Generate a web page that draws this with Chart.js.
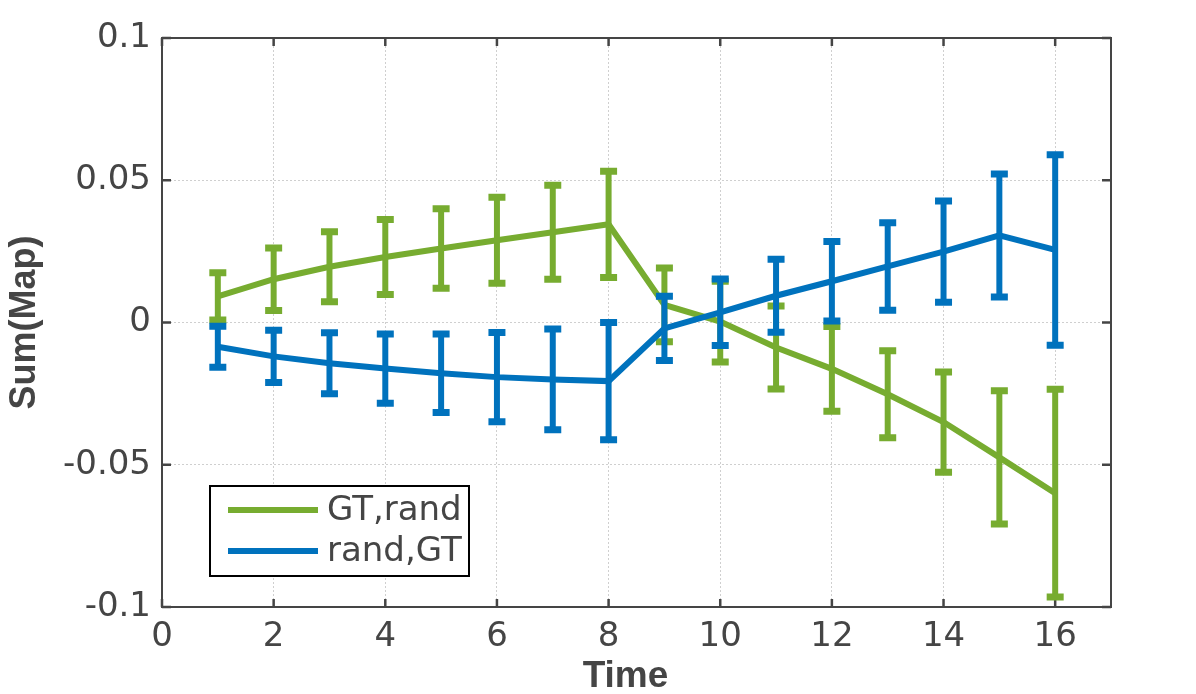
<!DOCTYPE html>
<html>
<head>
<meta charset="utf-8">
<script src="https://cdn.jsdelivr.net/npm/chart.js@4"></script>
<style>
  body { margin: 0; background: #fff; }
  #wrap { width: 1196px; height: 694px; }
</style>
</head>
<body>
<div id="wrap"><canvas id="chart" width="1196" height="694"></canvas></div>
<script>
// datos
const timeSteps = [1, 2, 3, 4, 5, 6, 7, 8, 9, 10, 11, 12, 13, 14, 15, 16];
const gtRandMean = [0.0092, 0.0152, 0.0196, 0.0230, 0.0260, 0.0289, 0.0317, 0.0345, 0.0062, 0.0003, -0.0088, -0.0163, -0.0252, -0.0350, -0.0474, -0.0600];
const gtRandErr = [0.0083, 0.0110, 0.0123, 0.0132, 0.0140, 0.0151, 0.0165, 0.0187, 0.0130, 0.0142, 0.0146, 0.0149, 0.0153, 0.0176, 0.0234, 0.0365];
const randGtMean = [-0.0085, -0.0119, -0.0143, -0.0162, -0.0178, -0.0192, -0.0200, -0.0206, -0.0021, 0.0036, 0.0094, 0.0145, 0.0197, 0.0249, 0.0306, 0.0255];
const randGtErr = [0.0072, 0.0092, 0.0107, 0.0122, 0.0138, 0.0157, 0.0177, 0.0206, 0.0113, 0.0117, 0.0128, 0.0140, 0.0154, 0.0178, 0.0216, 0.0335];

const xTicks = [0, 2, 4, 6, 8, 10, 12, 14, 16];
const yTicks = [-0.1, -0.05, 0, 0.05, 0.1];
const yTickLabels = ['-0.1', '-0.05', '0', '0.05', '0.1'];

const green = '#77AC30';
const blue = '#0072BD';
const axisColor = '#454545';
const textColor = '#454545';
const gridColor = '#cfcfcf';
const tickFont = '"DejaVu Sans", sans-serif';
const titleFont = '"Liberation Sans", Arial, Helvetica, sans-serif';

function toPoints(means) {
  return timeSteps.map((t, i) => ({ x: t, y: means[i] }));
}

// barras de error, dibujadas justo despues de cada serie
const errorBars = {
  id: 'errorBars',
  afterDatasetDraw(chart, args) {
    const ds = chart.data.datasets[args.index];
    if (!ds.errors) return;
    const ctx = chart.ctx;
    const xs = chart.scales.x, ys = chart.scales.y;
    ctx.save();
    ctx.strokeStyle = ds.borderColor;
    ctx.lineCap = 'butt';
    ds.data.forEach((p, i) => {
      const px = xs.getPixelForValue(p.x);
      const top = ys.getPixelForValue(p.y + ds.errors[i]);
      const bot = ys.getPixelForValue(p.y - ds.errors[i]);
      ctx.lineWidth = 6;
      ctx.beginPath();
      ctx.moveTo(px, top);
      ctx.lineTo(px, bot);
      ctx.stroke();
      ctx.lineWidth = 7;
      ctx.beginPath();
      ctx.moveTo(px - 8.5, top);
      ctx.lineTo(px + 8.5, top);
      ctx.moveTo(px - 8.5, bot);
      ctx.lineTo(px + 8.5, bot);
      ctx.stroke();
    });
    ctx.restore();
  }
};

// caja de ejes con marcas hacia dentro
const axesBox = {
  id: 'axesBox',
  beforeDatasetsDraw(chart) {
    const ctx = chart.ctx;
    const a = chart.chartArea;
    const xs = chart.scales.x, ys = chart.scales.y;
    ctx.save();
    ctx.strokeStyle = axisColor;
    ctx.lineWidth = 2;
    ctx.strokeRect(a.left, a.top, a.right - a.left, a.bottom - a.top);
    ctx.lineWidth = 2.5;
    ctx.beginPath();
    xTicks.forEach(v => {
      const px = xs.getPixelForValue(v);
      ctx.moveTo(px, a.bottom);
      ctx.lineTo(px, a.bottom - 8);
      ctx.moveTo(px, a.top);
      ctx.lineTo(px, a.top + 8);
    });
    yTicks.forEach(v => {
      const py = ys.getPixelForValue(v);
      ctx.moveTo(a.left, py);
      ctx.lineTo(a.left + 9, py);
      ctx.moveTo(a.right, py);
      ctx.lineTo(a.right - 9, py);
    });
    ctx.stroke();
    ctx.restore();
  },
  afterDraw(chart) {
    // titulo del eje x, un poco a la izquierda del centro como en la figura
    const ctx = chart.ctx;
    const a = chart.chartArea;
    ctx.save();
    ctx.fillStyle = textColor;
    ctx.font = 'bold 37px ' + titleFont;
    ctx.textAlign = 'center';
    ctx.textBaseline = 'middle';
    ctx.fillText('Time', (a.left + a.right) / 2 - 11, 677);
    ctx.restore();
  }
};

// leyenda dentro del area de la grafica
const boxLegend = {
  id: 'boxLegend',
  afterDraw(chart) {
    const ctx = chart.ctx;
    const a = chart.chartArea;
    const x0 = a.left + 48, y0 = a.bottom - 121, w = 259, h = 90;
    ctx.save();
    ctx.fillStyle = '#fff';
    ctx.fillRect(x0, y0, w, h);
    ctx.strokeStyle = '#000';
    ctx.lineWidth = 2;
    ctx.strokeRect(x0, y0, w, h);
    const order = [1, 0];
    order.forEach((idx, row) => {
      const ds = chart.data.datasets[idx];
      const ly = y0 + 24 + row * 41;
      ctx.strokeStyle = ds.borderColor;
      ctx.lineWidth = 6;
      ctx.beginPath();
      ctx.moveTo(x0 + 18, ly);
      ctx.lineTo(x0 + 108, ly);
      ctx.stroke();
      ctx.fillStyle = textColor;
      ctx.font = '34px ' + tickFont;
      ctx.textBaseline = 'middle';
      ctx.fillText(ds.label, x0 + 117, ly + 1);
    });
    ctx.restore();
  }
};

new Chart(document.getElementById('chart'), {
  type: 'line',
  data: {
    datasets: [
      {
        label: 'rand,GT',
        data: toPoints(randGtMean),
        errors: randGtErr,
        borderColor: blue,
        backgroundColor: blue,
        borderWidth: 6,
        pointRadius: 0,
        tension: 0,
        borderJoinStyle: 'miter',
        order: 0
      },
      {
        label: 'GT,rand',
        data: toPoints(gtRandMean),
        errors: gtRandErr,
        borderColor: green,
        backgroundColor: green,
        borderWidth: 6,
        pointRadius: 0,
        tension: 0,
        borderJoinStyle: 'miter',
        order: 1
      }
    ]
  },
  options: {
    responsive: false,
    animation: false,
    layout: { padding: { top: 38, right: 85, bottom: 0, left: 0 } },
    plugins: {
      legend: { display: false },
      tooltip: { enabled: false }
    },
    scales: {
      x: {
        type: 'linear',
        min: 0,
        max: 17,
        afterBuildTicks: axis => { axis.ticks = xTicks.map(v => ({ value: v })); },
        afterFit: scale => { scale.height = 87; },
        grid: { color: gridColor, lineWidth: 1, drawTicks: false },
        border: { display: false, dash: [2, 2] },
        ticks: {
          color: textColor,
          padding: 10,
          font: { family: tickFont, size: 34 },
          callback: v => String(v)
        }
      },
      y: {
        min: -0.1,
        max: 0.1,
        afterBuildTicks: axis => { axis.ticks = yTicks.map(v => ({ value: v })); },
        afterFit: scale => { scale.width = 162; },
        grid: { color: gridColor, lineWidth: 1, drawTicks: false },
        border: { display: false, dash: [2, 2] },
        ticks: {
          color: textColor,
          padding: 11,
          font: { family: tickFont, size: 34 },
          callback: (v, i) => yTickLabels[i]
        },
        title: {
          display: true,
          text: 'Sum(Map)',
          color: textColor,
          font: { family: titleFont, size: 36, weight: 'bold', lineHeight: 1 },
          padding: { top: 7, bottom: 0 }
        }
      }
    }
  },
  plugins: [errorBars, axesBox, boxLegend]
});
</script>
</body>
</html>
